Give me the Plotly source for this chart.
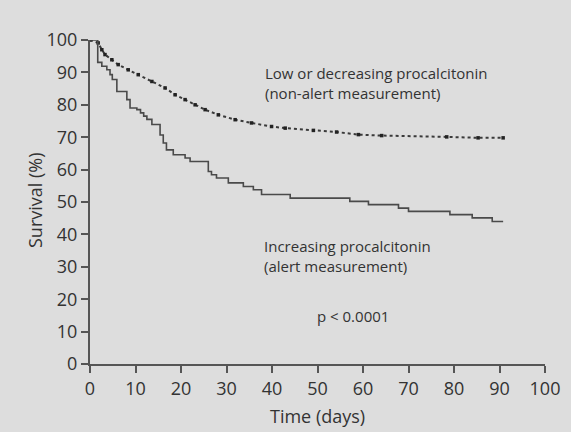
import plotly.graph_objects as go

# Non-alert (low or decreasing procalcitonin)
low_days = [0, 1.8, 2.6, 3.3, 4.8, 6.2, 8.4, 10.6, 13.6, 16.5, 18.7, 20.9, 23.1, 25.3,
            28.2, 31.9, 35.5, 39.9, 42.9, 49.1, 54.2, 59.0, 64.1, 78.4, 85.3, 90.8]
low_surv = [100, 99.1, 97.0, 95.5, 93.9, 92.4, 90.8, 89.3, 87.2, 85.2, 83.1, 81.6, 80.0, 78.5,
            76.9, 75.4, 74.4, 73.3, 72.8, 72.1, 71.6, 70.8, 70.5, 70.1, 69.8, 69.8]

# Alert (increasing procalcitonin)
alert_days = [0, 1.7, 2.6, 3.7, 4.4, 4.9, 5.9, 8.1, 8.8, 10.3, 11.1, 11.8, 12.5, 13.6, 15.4,
              16.1, 16.8, 18.3, 20.9, 22.0, 26.0, 26.7, 27.8, 30.4, 33.7, 35.9, 37.7, 44.0,
              57.1, 61.2, 67.8, 70.0, 79.1, 84.0, 88.4, 90.8]
alert_surv = [100, 93.1, 91.9, 90.8, 89.3, 87.8, 84.1, 81.6, 79.0, 78.5, 77.5, 76.5, 75.5, 73.9,
              70.7, 68.2, 66.1, 64.6, 63.6, 62.5, 59.4, 58.4, 57.4, 55.9, 54.8, 53.8, 52.3, 51.2,
              50.2, 49.2, 48.1, 47.1, 46.1, 45.1, 44.0, 44.0]

ticks = list(range(0, 101, 10))

ink = "#333333"
bg = "#dddddd"
font = "Open Sans"

fig = go.Figure()
fig.add_trace(go.Scatter(
    x=low_days, y=low_surv, mode="lines+markers", line_shape="linear",
    line=dict(color="#3a3a3a", width=2, dash="dot"),
    marker=dict(size=3.5, color="#222222", symbol="square"),
    showlegend=False, hoverinfo="skip"))
fig.add_trace(go.Scatter(
    x=alert_days, y=alert_surv, mode="lines", line_shape="hv",
    line=dict(color="#4a4a4a", width=1.6),
    showlegend=False, hoverinfo="skip"))

axis_common = dict(
    showgrid=False, zeroline=False, showline=True, linecolor="#555555", linewidth=2,
    ticks="outside", ticklen=7, tickwidth=1.5, tickcolor="#555555",
    tickfont=dict(family=font, size=18, color=ink), tickmode="array",
    tickvals=ticks, ticktext=[str(t) for t in ticks])

fig.update_xaxes(range=[0, 100], **axis_common)
fig.update_yaxes(range=[0, 100], **axis_common)

fig.update_layout(
    width=571, height=432,
    margin=dict(l=90, r=26, t=40, b=68),
    paper_bgcolor=bg, plot_bgcolor=bg,
    font=dict(family=font, color=ink),
    annotations=[
        dict(x=38, y=86.8, xref="x", yref="y", xanchor="left", yanchor="middle", align="left",
             text="Low or decreasing procalcitonin<br>(non-alert measurement)",
             showarrow=False, font=dict(size=15, color=ink, family=font)),
        dict(x=37.7, y=33.2, xref="x", yref="y", xanchor="left", yanchor="middle", align="left",
             text="Increasing procalcitonin<br>(alert measurement)",
             showarrow=False, font=dict(size=15, color=ink, family=font)),
        dict(x=49.5, y=14.7, xref="x", yref="y", xanchor="left", yanchor="middle",
             text="p < 0.0001", showarrow=False, font=dict(size=15, color=ink, family=font)),
        dict(x=-0.121, y=0.506, xref="paper", yref="paper", xanchor="center", yanchor="middle",
             text="Survival (%)", textangle=-90, showarrow=False,
             font=dict(size=18, color=ink, family=font)),
        dict(x=0.5, y=-0.16, xref="paper", yref="paper", xanchor="center", yanchor="middle",
             text="Time (days)", showarrow=False, font=dict(size=18, color=ink, family=font)),
    ],
)

fig.write_html("out.html")
